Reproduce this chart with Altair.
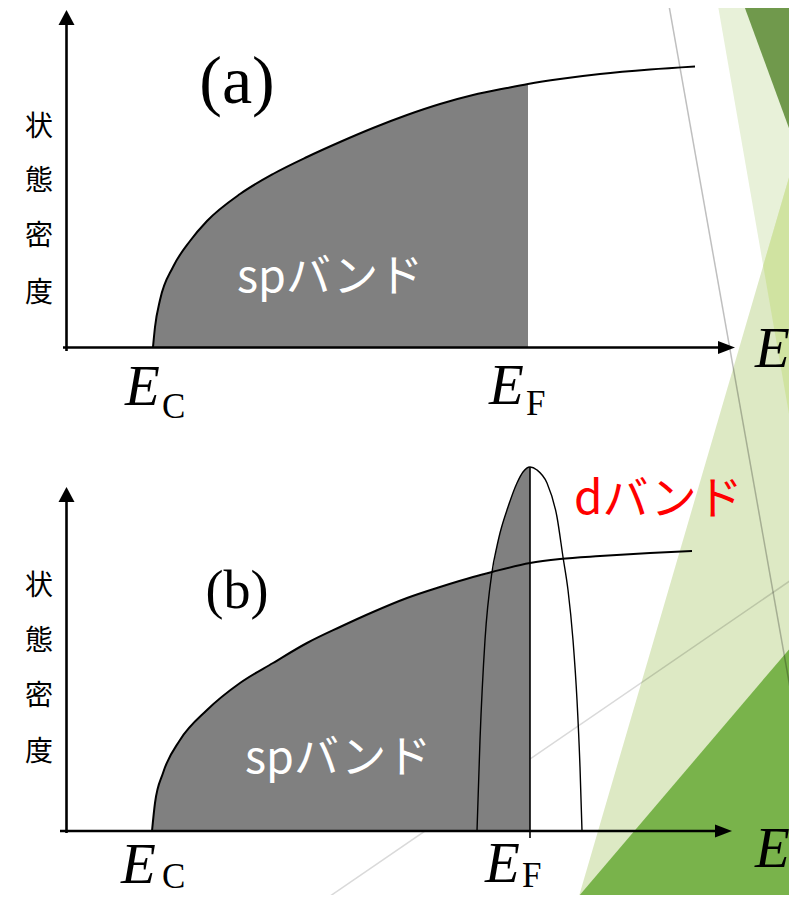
import altair as alt
import pandas as pd

# ---------------- data (figure pixel coordinates, y grows downward) ----------------
# (a) sp band density-of-states curve
sp_a_x = [153, 155, 160, 173, 190, 207, 240, 273, 307, 340, 373, 407, 440, 473, 507, 528, 560, 600, 650, 695]
sp_a_y = [347, 327, 300, 267, 241, 221, 194, 174, 157, 142, 128, 115, 104, 95, 88, 84, 79, 74, 69.5, 66.5]
EF_A = 528
BASE_A = 347.5

# (b) sp band curve and d band curve
sp_b_x = [152, 155, 163, 180, 207, 240, 273, 307, 340, 373, 407, 440, 473, 492, 530, 560, 600, 650, 692]
sp_b_y = [831, 803, 773, 740, 710, 683, 663, 643, 627, 612, 598, 587, 577, 572, 563, 559, 556, 553, 551]
d_x = [477, 480, 485, 492, 497, 500, 508, 517, 523, 530, 537, 547, 557, 563, 568, 573, 577, 580, 582]
d_y = [831, 740, 640, 572, 546, 533, 507, 483, 472, 467, 470, 483, 517, 557, 590, 640, 700, 767, 831]
EF_B = 530
BASE_B = 831

# text
panel_labels = ["(a)", "(b)"]
ylabel_chars = ["状", "態", "密", "度"]
sp_label = "spバンド"
d_label = "dバンド"

# ---------------- scales ----------------
W, H = 781, 887
xs = alt.Scale(domain=[8, 8 + W], nice=False, zero=False)
ys = alt.Scale(domain=[8, 8 + H], nice=False, zero=False, reverse=True)


def X(f="x"):
    return alt.X(f"{f}:Q", scale=xs, axis=None)


def Y(f="y"):
    return alt.Y(f"{f}:Q", scale=ys, axis=None)


def tri(points, color):
    df = pd.DataFrame(points, columns=["x", "y", "y2"])
    return alt.Chart(df).mark_area(color=color, opacity=1, interpolate="linear").encode(
        x=X(), y=Y(), y2="y2:Q"
    )


# ---------------- background decoration ----------------
bg = [
    tri([(717, 0, 0), (797, 0, 460)], "#e8f1d9"),
    tri([(577, 903, 903), (797, 150, 903)], "#dde9c4"),
    tri([(763.2, 265.7, 265.7), (797, 150, 460)], "#d0e3a1"),
    tri([(742, 0, 0), (797, 0, 150)], "#70994c"),
    tri([(573, 903, 903), (797, 640, 903)], "#79b34b"),
]

deco_lines = pd.DataFrame(
    {"x": [668, 797, 320, 797], "y": [0, 727, 903, 576], "id": ["l1", "l1", "l2", "l2"],
     "op": [0.25, 0.25, 0.15, 0.15]}
)
deco = alt.Chart(deco_lines).mark_line(color="black", strokeWidth=1.5).encode(
    x=X(), y=Y(), detail="id:N", opacity=alt.Opacity("op:Q", scale=None)
)

# ---------------- filled areas ----------------
fill_a = pd.DataFrame({"x": sp_a_x, "y": sp_a_y})
fill_a = fill_a[fill_a.x <= EF_A].assign(y2=BASE_A)

fb_x = [x for x in sp_b_x if x < 492] + [x for x in d_x if 492 <= x <= EF_B]
fb_y = [y for x, y in zip(sp_b_x, sp_b_y) if x < 492] + [y for x, y in zip(d_x, d_y) if 492 <= x <= EF_B]
fill_b = pd.DataFrame({"x": fb_x, "y": fb_y, "y2": BASE_B})

fills = alt.Chart(pd.concat([fill_a.assign(p="a"), fill_b.assign(p="b")])).mark_area(
    color="#808080", opacity=1, interpolate="monotone"
).encode(x=X(), y=Y(), y2="y2:Q", detail="p:N")

# ---------------- curves ----------------
sp_lines = pd.concat([
    pd.DataFrame({"x": sp_a_x, "y": sp_a_y, "id": "a"}),
    pd.DataFrame({"x": sp_b_x, "y": sp_b_y, "id": "b"}),
])
sp_curves = alt.Chart(sp_lines).mark_line(color="black", strokeWidth=2, interpolate="monotone").encode(
    x=X(), y=Y(), detail="id:N"
)
d_curve = alt.Chart(pd.DataFrame({"x": d_x, "y": d_y})).mark_line(
    color="black", strokeWidth=1.4, interpolate="monotone"
).encode(x=X(), y=Y())

ef_rule = alt.Chart(pd.DataFrame({"x": [EF_B], "y": [min(d_y)], "y2": [BASE_B + 7]})).mark_rule(
    color="black", strokeWidth=1.6
).encode(x=X(), y=Y(), y2="y2:Q")

# ---------------- axes ----------------
axes_df = pd.DataFrame({
    "x": [66.5, 63, 66.5, 60],
    "x2": [66.5, 722, 66.5, 719],
    "y": [24, BASE_A, 500, BASE_B],
    "y2": [351, BASE_A, 833, BASE_B],
})
axes = alt.Chart(axes_df).mark_rule(color="black", strokeWidth=2.6).encode(
    x=X(), x2="x2:Q", y=Y(), y2="y2:Q"
)
up_heads = alt.Chart(pd.DataFrame({"x": [66.5, 66.5], "y": [17.5, 494.5]})).mark_point(
    shape="M0,-0.94L1,0.94L-1,0.94Z", size=256, filled=True, color="black", opacity=1, strokeWidth=0
).encode(x=X(), y=Y())
right_heads = alt.Chart(pd.DataFrame({"x": [726.5, 723.5], "y": [BASE_A, BASE_B]})).mark_point(
    shape="M1,0L-1,0.76L-1,-0.76Z", size=289, filled=True, color="black", opacity=1, strokeWidth=0
).encode(x=X(), y=Y())

# ---------------- texts ----------------
def text_layer(df, **kw):
    return alt.Chart(df).mark_text(**kw).encode(x=X(), y=Y(), text="t:N")


txt_panel_a = text_layer(pd.DataFrame({"x": [237], "y": [103], "t": [panel_labels[0]]}),
                         font="Liberation Serif", fontSize=68, align="center", baseline="alphabetic", color="black")
txt_panel_b = text_layer(pd.DataFrame({"x": [237], "y": [608], "t": [panel_labels[1]]}),
                         font="Liberation Serif", fontSize=54, align="center", baseline="alphabetic", color="black")

ylab = pd.DataFrame({
    "x": [39] * 8,
    "y": [128, 182, 237, 294, 587, 642, 697, 753],
    "t": ylabel_chars * 2,
})
txt_ylab = text_layer(ylab, font="Noto Sans CJK JP", fontSize=28, align="center", baseline="middle", color="black")

txt_sp = text_layer(pd.DataFrame({"x": [237, 245], "y": [292, 773], "t": [sp_label, sp_label]}),
                    font="Noto Sans CJK JP", fontSize=45, align="left", baseline="alphabetic", color="white")
txt_d = text_layer(pd.DataFrame({"x": [574], "y": [514], "t": [d_label]}),
                   font="Noto Sans CJK JP", fontSize=46, align="left", baseline="alphabetic", color="#ff0000")

txt_E = text_layer(pd.DataFrame({"x": [125, 489, 121, 485, 755, 755],
                                 "y": [405, 404, 883, 882, 367, 867],
                                 "t": ["E", "E", "E", "E", "E", "E"]}),
                   font="Liberation Serif", fontStyle="italic", fontSize=57, align="left",
                   baseline="alphabetic", color="black")
txt_sub = text_layer(pd.DataFrame({"x": [162, 526, 162, 522],
                                   "y": [418, 415, 888, 887],
                                   "t": ["C", "F", "C", "F"]}),
                     font="Liberation Serif", fontSize=35, align="left", baseline="alphabetic", color="black")

chart = alt.layer(
    *bg, deco, fills, sp_curves, d_curve, ef_rule, axes, up_heads, right_heads,
    txt_panel_a, txt_panel_b, txt_ylab, txt_sp, txt_d, txt_E, txt_sub,
).properties(
    width=W, height=H, padding=0, autosize=alt.AutoSizeParams(type="none"), background="white"
).configure_view(strokeWidth=0)

chart.save("out.html", embed_options={"renderer": "svg", "actions": False})
